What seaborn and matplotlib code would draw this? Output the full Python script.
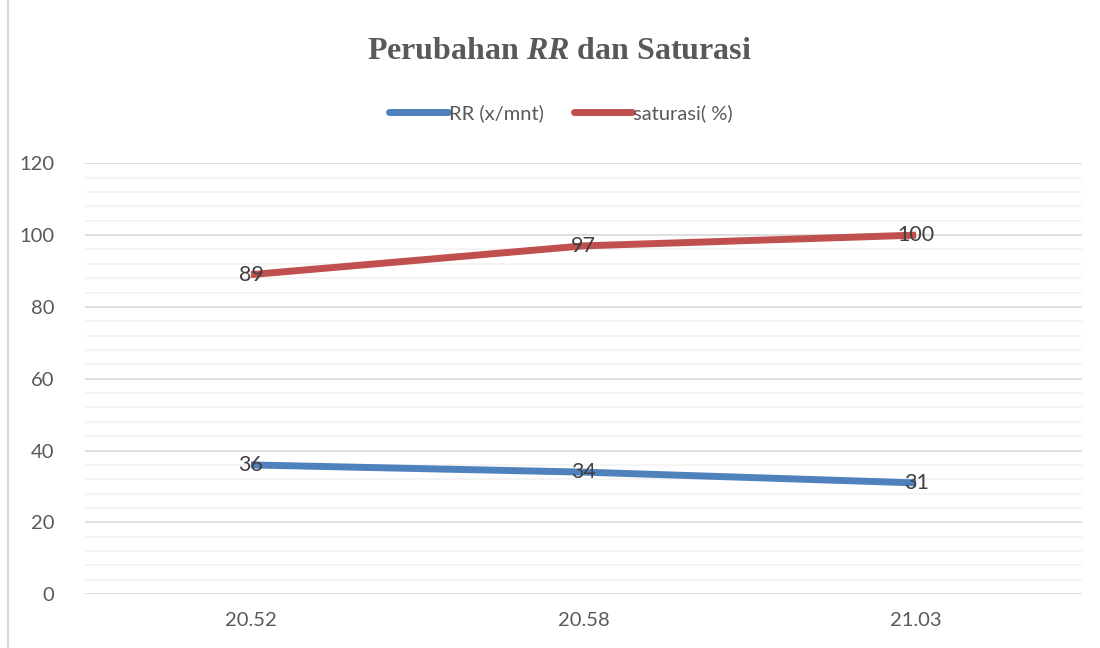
import pandas as pd
import matplotlib
matplotlib.use("Agg")
import matplotlib.pyplot as plt
import seaborn as sns
from matplotlib.ticker import MultipleLocator
from matplotlib.lines import Line2D

waktu = ["20.52", "20.58", "21.03"]
rr = [36, 34, 31]
saturasi = [89, 97, 100]
series_names = ["RR (x/mnt)", "saturasi( %)"]

data = pd.DataFrame({
    "waktu": waktu * 2,
    "nilai": rr + saturasi,
    "seri": [series_names[0]] * 3 + [series_names[1]] * 3,
})
data["pos"] = list(range(len(waktu))) * 2

sns.set_style("white")
plt.rcParams["font.family"] = ["Lato", "DejaVu Sans"]
plt.rcParams["mathtext.fontset"] = "custom"
plt.rcParams["mathtext.it"] = "Liberation Serif:italic:bold"
plt.rcParams["mathtext.rm"] = "Liberation Serif:bold"

colors = {series_names[0]: "#4F81BD", series_names[1]: "#C0504D"}

fig = plt.figure(figsize=(11, 6.48), dpi=100)
ax = fig.add_axes([0.077, 0.083, 0.907, 0.665])

sns.lineplot(data=data, x="pos", y="nilai", hue="seri", palette=colors,
             linewidth=5, legend=False, ax=ax, solid_capstyle="butt")

for _, row in data.iterrows():
    ax.text(row["pos"], row["nilai"], str(row["nilai"]), ha="center", va="center",
            fontsize=15.5, color="#404040")

ax.set_xlim(-0.5, len(waktu) - 0.5)
ax.set_ylim(0, 120)
ax.set_xticks(range(len(waktu)))
ax.set_xticklabels(waktu)
ax.yaxis.set_major_locator(MultipleLocator(20))
ax.yaxis.set_minor_locator(MultipleLocator(4))
ax.grid(which="minor", axis="y", color="#F2F2F2", linewidth=1.2)
ax.grid(which="major", axis="y", color="#D9D9D9", linewidth=1.2)
ax.set_axisbelow(True)
ax.tick_params(axis="both", length=0, labelsize=14.5, colors="#595959", pad=13)
ax.tick_params(axis="y", pad=22)
ax.set_xlabel("")
ax.set_ylabel("")
for s in ax.spines.values():
    s.set_visible(False)

fig.text(0.509, 0.92, r"Perubahan $\mathit{RR}$ dan Saturasi", ha="center", va="center",
         fontsize=23, fontweight="bold", family="Liberation Serif", color="#595959")

handles = [Line2D([0], [0], color=colors[n], linewidth=5, solid_capstyle="round") for n in series_names]
fig.legend(handles, series_names, loc="center", bbox_to_anchor=(0.51, 0.826), ncol=2,
           frameon=False, fontsize=14.5, handlelength=2.9, handletextpad=0.05, columnspacing=1.5,
           labelcolor="#595959")

fig.add_artist(Line2D([0.0075, 0.0075], [0, 1], color="#D9D9D9", linewidth=1.5, transform=fig.transFigure))

fig.savefig("out.png", dpi=100)
